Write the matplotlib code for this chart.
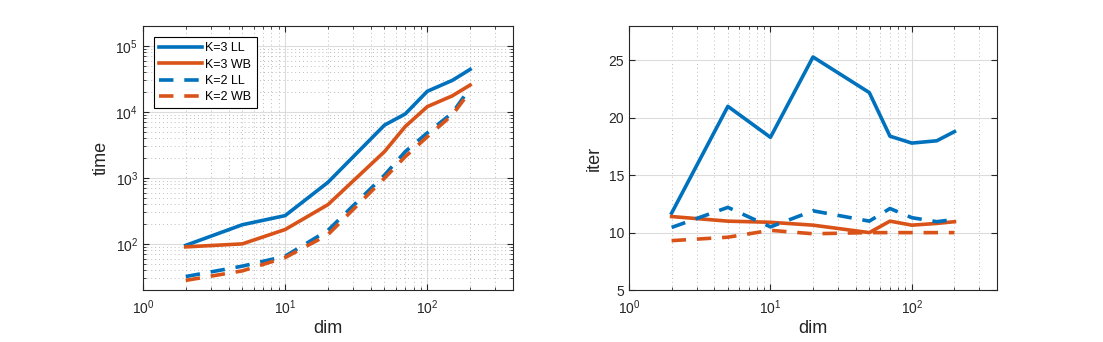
import matplotlib
matplotlib.use("Agg")
import matplotlib.pyplot as plt

plt.rcParams['font.family'] = ['Liberation Sans', 'DejaVu Sans']
plt.rcParams['mathtext.fontset'] = 'custom'
plt.rcParams['mathtext.rm'] = 'Liberation Sans'

# data
dim = [2, 5, 10, 20, 50, 70, 100, 150, 200]
time_k3_ll = [95, 195, 268, 855, 6300, 9300, 20500, 30000, 44000]
time_k3_wb = [90, 100, 165, 393, 2500, 6000, 12000, 17500, 25500]
time_k2_ll = [32, 46, 65, 160, 1100, 2500, 4800, 9600, 23000]
time_k2_wb = [28, 39, 62, 138, 990, 2100, 4200, 9000, 20500]
iter_k3_ll = [11.7, 21.0, 18.3, 25.3, 22.2, 18.4, 17.8, 18.0, 18.8]
iter_k3_wb = [11.4, 11.0, 10.9, 10.65, 10.0, 11.0, 10.65, 10.8, 10.95]
iter_k2_ll = [10.45, 12.2, 10.5, 11.9, 11.0, 12.1, 11.3, 10.95, 11.15]
iter_k2_wb = [9.3, 9.6, 10.2, 9.9, 10.0, 10.0, 10.0, 10.0, 10.0]
labels = ['K=3 LL', 'K=3 WB', 'K=2 LL', 'K=2 WB']

blue = '#0072BD'
orange = '#D95319'
dark = '#262626'
lw = 2.6
dash = (0, (4, 3))

fig = plt.figure(figsize=(11.03, 3.42), dpi=100)
ax1 = fig.add_axes([0.1296, 0.152, 0.3354, 0.772])
ax2 = fig.add_axes([0.5703, 0.152, 0.3336, 0.772])

ax1.loglog(dim, time_k3_ll, color=blue, lw=lw, label=labels[0])
ax1.loglog(dim, time_k3_wb, color=orange, lw=lw, label=labels[1])
ax1.loglog(dim, time_k2_ll, color=blue, lw=lw, ls=dash, label=labels[2])
ax1.loglog(dim, time_k2_wb, color=orange, lw=lw, ls=dash, label=labels[3])
ax1.set_ylim(20, 2e5)
ax1.set_ylabel('time', fontsize=13, color=dark)

ax2.semilogx(dim, iter_k3_ll, color=blue, lw=lw)
ax2.semilogx(dim, iter_k3_wb, color=orange, lw=lw)
ax2.semilogx(dim, iter_k2_ll, color=blue, lw=lw, ls=dash)
ax2.semilogx(dim, iter_k2_wb, color=orange, lw=lw, ls=dash)
ax2.set_ylim(5, 28)
ax2.set_yticks([5, 10, 15, 20, 25])
ax2.set_ylabel('iter', fontsize=13, color=dark)

for ax in (ax1, ax2):
    ax.set_xlim(1, 400)
    ax.set_xlabel('dim', fontsize=13, color=dark, labelpad=2)
    ax.tick_params(which='both', direction='in', top=True, right=True,
                   colors=dark, labelsize=10)
    ax.tick_params(axis='x', which='major', pad=6)
    ax.tick_params(which='major', length=4)
    ax.tick_params(which='minor', length=2)
    ax.grid(True, which='major', color='#dcdcdc', lw=0.8)
    for s in ax.spines.values():
        s.set_color(dark)
        s.set_linewidth(0.8)
    ax.set_axisbelow(True)

ax1.grid(True, which='minor', color='#bdbdbd', ls=(0, (1, 3)), lw=0.7)
ax2.grid(True, which='minor', axis='x', color='#bdbdbd', ls=(0, (1, 3)), lw=0.7)
ax2.tick_params(axis='y', which='minor', left=False, right=False)

leg = ax1.legend(loc='upper left', fontsize=9, handlelength=3.4,
                 fancybox=False, edgecolor='black', framealpha=1,
                 borderaxespad=0.9, handletextpad=0.3, labelspacing=0.35)
leg.get_frame().set_linewidth(0.8)

fig.savefig('out.png', dpi=100)
